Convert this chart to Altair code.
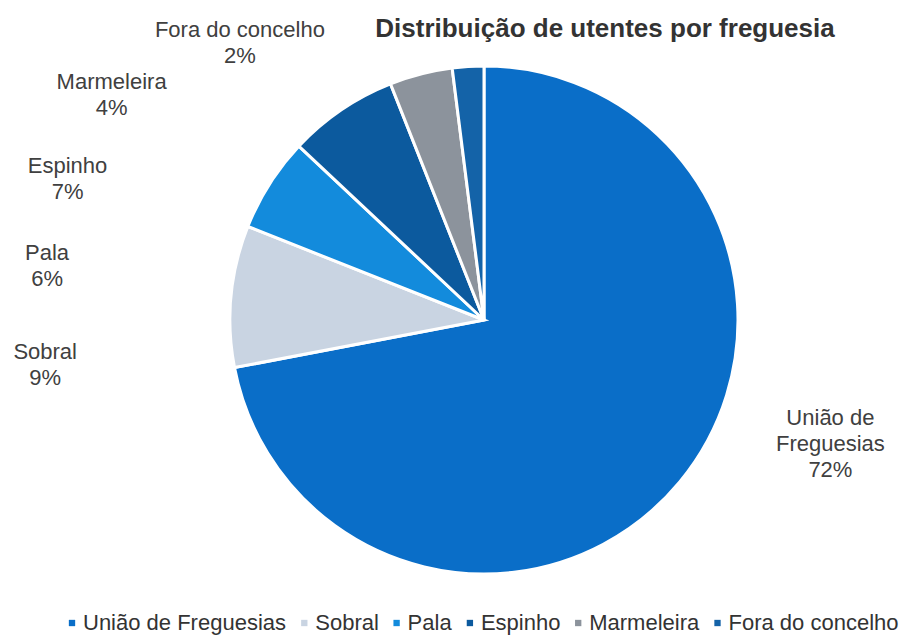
import math
import altair as alt
import pandas as pd

# ---- data ----
categories = ["União de Freguesias", "Sobral", "Pala", "Espinho", "Marmeleira", "Fora do concelho"]
values = [72, 9, 6, 7, 4, 2]
label_names = ["União de\nFreguesias", "Sobral", "Pala", "Espinho", "Marmeleira", "Fora do concelho"]

# ---- styles / layout (not data) ----
colors = ["#0a6ec8", "#c9d4e2", "#138bdc", "#0c5a9e", "#8c939c", "#1463a8"]
label_angle = [105.8, 265.8, 278.7, 290.3, 302.6, 319.9]   # degrees clockwise from 12 o'clock (first line)
label_radius = [360, 440, 442, 444, 442, 379]              # px from the pie centre
FONT = "Liberation Sans"

df = pd.DataFrame({
    "freguesia": categories,
    "valor": values,
    "ordem": list(range(len(categories))),
    "rotulo": [f"{n}\n{v}%" for n, v in zip(label_names, values)],
    "ang": label_angle,
    "rad": label_radius,
})

pie = alt.Chart(df).mark_arc(outerRadius=254, stroke="white", strokeWidth=3).encode(
    theta=alt.Theta("valor:Q", stack=True),
    order=alt.Order("ordem:Q"),
    color=alt.Color(
        "freguesia:N",
        scale=alt.Scale(domain=categories, range=colors),
        legend=alt.Legend(
            orient="none", legendX=-5, legendY=564, direction="horizontal", columns=6,
            title=None, symbolType="square", symbolSize=40, symbolStrokeWidth=0,
            labelFont=FONT, labelFontSize=22, labelColor="#333333", labelOffset=0,
            columnPadding=6.3, labelLimit=400,
        ),
    ),
)

labels = alt.Chart(df).mark_text(
    font=FONT, fontSize=22, color="#404040", align="center", baseline="middle",
    lineBreak="\n", lineHeight=26,
).encode(
    theta=alt.Theta("ang:Q", stack=False, scale=alt.Scale(domain=[0, 360], range=[0, 2 * math.pi])),
    radius=alt.Radius("rad:Q", scale=None),
    text="rotulo:N",
)

chart = alt.layer(pie, labels).resolve_scale(theta="independent").properties(
    width=836, height=544,
    padding={"left": 58, "top": 40, "right": 0, "bottom": 43},
    autosize="none",
    background="white",
    title=alt.TitleParams(
        "Distribuição de utentes por freguesia", anchor="middle", frame="group", dx=121, dy=27,
        fontSize=26, font=FONT, fontWeight="bold", color="#333333",
    ),
).configure_view(stroke=None)

chart.save("out.html", embed_options={"renderer": "svg", "actions": False})
